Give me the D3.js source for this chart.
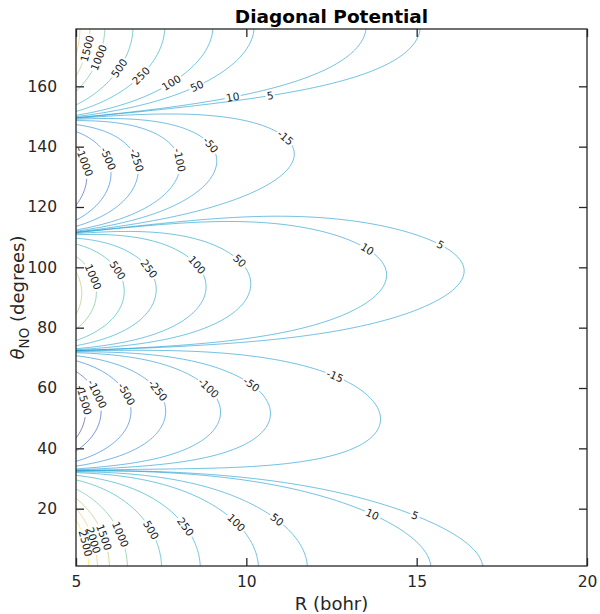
<!DOCTYPE html>
<html>
<head>
<meta charset="utf-8">
<script src="https://cdn.jsdelivr.net/npm/d3@7"></script>
<style>
    body { margin: 0; background: #fff; }
    svg { font-family: "DejaVu Sans", sans-serif; }
</style>
</head>
<body>
<svg id="chart" width="600" height="614"></svg>
<script>
const levels = [-1500, -1000, -500, -250, -100, -50, -15, 5, 10, 50, 100, 250, 500, 1000, 1500, 2000, 2500];
const xTicks = [5, 10, 15, 20];
const yTicks = [20, 40, 60, 80, 100, 120, 140, 160];

// contour readings [level, R (bohr), theta (deg)] taken where the labels sit
const labelsA = [[2500, 5.21, 8.5], [2000, 5.51, 9.6], [1500, 5.83, 10.6], [1000, 6.29, 11.3], [500, 7.17, 12.7],
    [250, 8.20, 13.5], [100, 9.62, 14.3], [50, 10.84, 15.4], [10, 13.68, 17.3], [5, 14.95, 17.7]];
const labelsB = [[-1500, 5.17, 56.0], [-1000, 5.61, 57.7], [-500, 6.49, 58.3], [-250, 7.39, 59.3],
    [-100, 8.84, 59.7], [-50, 10.11, 60.4], [-15, 12.6, 63.3]];
const labelsC = [[1000, 5.47, 96.5], [500, 6.19, 98.5], [250, 7.14, 99.4], [100, 8.57, 101.1],
    [50, 9.82, 102.4], [10, 13.53, 106.0], [5, 15.71, 107.2]];
const labelsD = [[-1000, 5.15, 134.6], [-500, 5.88, 135.9], [-250, 6.79, 135.6], [-100, 8.08, 135.6],
    [-50, 8.96, 140.9], [-15, 11.08, 142.6]];
const labelsE = [[1500, 5.32, 172.7], [1000, 5.62, 169.7], [500, 6.29, 166.1], [250, 6.94, 163.1],
    [100, 7.79, 161.1], [50, 8.55, 160.4], [10, 9.58, 156.5], [5, 10.70, 156.8]];

// other contour readings [level, R, theta]
const edgeBottom = [[2500, 5.39, 1], [2000, 5.65, 1], [1500, 6.02, 1], [1000, 6.55, 1], [500, 7.55, 1],
    [250, 8.69, 1], [100, 10.37, 1], [50, 11.77, 1], [10, 15.37, 1], [5, 16.97, 1]];
const edgeTop = [[2000, 5.06, 179], [1500, 5.38, 179], [1000, 5.87, 179], [500, 6.71, 179], [250, 7.63, 179],
    [100, 8.99, 179], [50, 10.13, 179], [10, 13.45, 179], [5, 15.13, 179]];
const tipsB = [[-1000, 5.85, 50.5], [-500, 6.61, 50.5], [-250, 7.66, 50.5], [-100, 9.28, 50.5],
    [-50, 10.75, 50], [-15, 13.9, 48.5]];
const tipsC = [[1500, 5.12, 93], [1000, 5.56, 93], [500, 6.39, 93], [250, 7.37, 93.6], [100, 8.84, 94],
    [50, 10.19, 94.2], [10, 14.17, 96.9], [5, 16.34, 97.7]];
const tipsD = [[-1000, 5.26, 135], [-500, 6.05, 135], [-250, 6.88, 135], [-100, 8.03, 135],
    [-50, 9.18, 135.5], [-15, 11.36, 136.7]];
const flanks = [[5, 12.4, 26.2], [10, 12.4, 24.5], [-15, 12.4, 34.5], [-15, 9.52, 71.5], [-15, 13.53, 56],
    [10, 9.52, 75.6], [10, 12.46, 82.5], [5, 13.44, 81.4], [5, 15.39, 86.4], [5, 8.64, 115.7],
    [10, 8.64, 115.1], [5, 11.58, 116.8], [10, 11.58, 113.5], [-15, 8.64, 119], [-15, 8.64, 150.8],
    [-15, 11.19, 143.3], [10, 8.64, 154.4], [10, 12.46, 165.4], [5, 12.46, 161], [10, 11.58, 162.1],
    [5, 11.58, 158.8]];
const nodes = [[0, 5, 33.5], [0, 5, 73.8], [0, 5, 112.4], [0, 5, 149.8]];

const parula = ['#352a87', '#0f5cdd', '#1481d6', '#06a4ca', '#2eb7a4', '#87bf77', '#d1bb59', '#fec832', '#f9fb0e'];

const width = 600, height = 614;
const plot = { left: 76, right: 587, top: 29, bottom: 566 };
const x = d3.scaleLinear().domain([5, 20]).range([plot.left, plot.right]);
const y = d3.scaleLinear().domain([1, 179]).range([plot.bottom, plot.top]);
const color = d3.scaleSequential(d3.interpolateRgbBasis(parula)).domain([-1300, 2700]).clamp(true);

// smooth field V(R, theta) = (5/R)^5 * sum_l P_l(cos theta) (a_l + b_l s + c_l s^2), fitted to the readings
const L = 7, K = 3;
const legendre = c => {
    const p = [1, c];
    for (let l = 2; l <= L; l++) p.push(((2 * l - 1) * c * p[l - 1] - (l - 1) * p[l - 2]) / l);
    return p;
};
const basis = (R, t) => {
    const p = legendre(Math.cos(t * Math.PI / 180));
    const s = (R - 5) / 10;
    const out = [];
    for (let k = 0; k < K; k++) for (let l = 0; l <= L; l++) out.push(p[l] * s ** k);
    return out;
};

const fit = rows => {
    const n = (L + 1) * K;
    const M = Array.from({ length: n }, () => new Float64Array(n + 1));
    rows.forEach(([level, R, t]) => {
        const b = basis(R, t);
        const target = level * (R / 5) ** 5;
        const w = level === 0 ? 0.02 : 6.8 * R / Math.abs(target);
        for (let i = 0; i < n; i++) {
            for (let j = 0; j < n; j++) M[i][j] += w * w * b[i] * b[j];
            M[i][n] += w * w * b[i] * target;
        }
    });
    for (let i = 0; i < n; i++) M[i][i] += 1e-6;
    for (let i = 0; i < n; i++) {
        let piv = i;
        for (let r = i + 1; r < n; r++) if (Math.abs(M[r][i]) > Math.abs(M[piv][i])) piv = r;
        [M[i], M[piv]] = [M[piv], M[i]];
        for (let r = 0; r < n; r++) {
            if (r === i) continue;
            const f = M[r][i] / M[i][i];
            for (let c = i; c <= n; c++) M[r][c] -= f * M[i][c];
        }
    }
    return M.map((row, i) => row[n] / row[i]);
};

const labelRows = [...labelsA, ...labelsB, ...labelsC, ...labelsD, ...labelsE];
const coef = fit([...labelRows, ...edgeBottom, ...edgeTop, ...tipsB, ...tipsC, ...tipsD, ...flanks, ...nodes]);
const potential = (R, t) => d3.sum(basis(R, t), (b, i) => b * coef[i]) * (5 / R) ** 5;

// grid, padded two cells past the axes so the grid border falls outside the clip
const nx = 305, ny = 361, dR = 15 / 300, dT = 178 / 356;
const values = new Float64Array(nx * ny);
for (let j = 0; j < ny; j++) {
    const t = 1 + (j - 2) * dT;
    for (let i = 0; i < nx; i++) values[j * nx + i] = potential(5 + (i - 2) * dR, t);
}
const toPx = ([cx, cy]) => [x(5 + (cx - 2.5) * dR), y(1 + (cy - 2.5) * dT)];

const contours = d3.contours().size([nx, ny]).thresholds(levels)(values);
const rings = contours.map(c => c.coordinates.flatMap(poly => poly.map(ring => ring.map(toPx))));

const svg = d3.select('#chart');
const defs = svg.append('defs');
defs.append('clipPath').attr('id', 'clip')
    .append('rect')
    .attr('x', plot.left).attr('y', plot.top)
    .attr('width', plot.right - plot.left).attr('height', plot.bottom - plot.top);

const masks = levels.map((v, i) => {
    const m = defs.append('mask').attr('id', `m${i}`)
        .attr('maskUnits', 'userSpaceOnUse')
        .attr('x', 0).attr('y', 0).attr('width', width).attr('height', height);
    m.append('rect').attr('width', width).attr('height', height).attr('fill', '#fff');
    return m;
});

const line = d3.line();
const lines = svg.append('g').attr('clip-path', 'url(#clip)');
contours.forEach((c, i) => {
    lines.append('g')
        .attr('mask', `url(#m${i})`)
        .selectAll('path')
        .data(rings[i])
        .join('path')
        .attr('d', r => line(r) + 'Z')
        .attr('fill', 'none')
        .attr('stroke', color(c.value))
        .attr('stroke-width', 0.6);
});

// inline labels: snap each reading onto its contour and turn it along the line
const labels = svg.append('g')
    .attr('font-size', 10.5)
    .attr('fill', '#1a1a1a');
labelRows.forEach(([level, R, t]) => {
    const i = levels.indexOf(level);
    const px = x(R), py = y(t);
    let best = null, bestD = Infinity;
    rings[i].forEach(ring => ring.forEach((p, k) => {
        const d = (p[0] - px) ** 2 + (p[1] - py) ** 2;
        if (d < bestD && p[0] > plot.left && p[1] > plot.top && p[1] < plot.bottom) { bestD = d; best = [ring, k]; }
    }));
    if (!best) return;
    const [ring, k] = best;
    const n = ring.length;
    const a = ring[(k - 3 + n) % n], b = ring[(k + 3) % n], p = ring[k];
    let ang = Math.atan2(b[1] - a[1], b[0] - a[0]) * 180 / Math.PI;
    if (ang > 90) ang -= 180;
    if (ang < -90) ang += 180;
    const text = labels.append('text')
        .attr('transform', `translate(${p[0]},${p[1]}) rotate(${ang})`)
        .attr('text-anchor', 'middle')
        .attr('dy', '0.35em')
        .text(level);
    const w = text.node().getComputedTextLength() + 3;
    masks[i].append('rect')
        .attr('x', -w / 2).attr('y', -5)
        .attr('width', w).attr('height', 10)
        .attr('transform', `translate(${p[0]},${p[1]}) rotate(${ang})`)
        .attr('fill', '#000');
});

// axes with inward ticks on every side
const ink = '#262626';
const tick = 8;
const bottomAxis = svg.append('g')
    .attr('transform', `translate(0,${plot.bottom})`)
    .call(d3.axisBottom(x).tickValues(xTicks).tickSize(-tick).tickPadding(10).tickFormat(d3.format('d')));
const topAxis = svg.append('g')
    .attr('transform', `translate(0,${plot.top})`)
    .call(d3.axisTop(x).tickValues(xTicks).tickSize(-tick).tickFormat(''));
const leftAxis = svg.append('g')
    .attr('transform', `translate(${plot.left},0)`)
    .call(d3.axisLeft(y).tickValues(yTicks).tickSize(-tick).tickPadding(19).tickFormat(d3.format('d')));
const rightAxis = svg.append('g')
    .attr('transform', `translate(${plot.right},0)`)
    .call(d3.axisRight(y).tickValues(yTicks).tickSize(-tick).tickFormat(''));
[bottomAxis, topAxis, leftAxis, rightAxis].forEach(g => {
    g.select('.domain').remove();
    g.selectAll('line').attr('stroke', ink).attr('stroke-width', 1.3);
    g.selectAll('text').attr('fill', ink).attr('font-size', 15.5).attr('font-family', '"DejaVu Sans", sans-serif');
});

svg.append('rect')
    .attr('x', plot.left).attr('y', plot.top)
    .attr('width', plot.right - plot.left).attr('height', plot.bottom - plot.top)
    .attr('fill', 'none')
    .attr('stroke', ink)
    .attr('stroke-width', 1.3);

svg.append('text')
    .attr('x', (plot.left + plot.right) / 2).attr('y', 23)
    .attr('text-anchor', 'middle')
    .attr('font-size', 18.5)
    .attr('font-weight', 'bold')
    .attr('fill', '#000')
    .text('Diagonal Potential');

svg.append('text')
    .attr('x', (plot.left + plot.right) / 2).attr('y', 610)
    .attr('text-anchor', 'middle')
    .attr('font-size', 18)
    .attr('fill', ink)
    .text('R (bohr)');

const yLabel = svg.append('text')
    .attr('transform', `translate(24,${(plot.top + plot.bottom) / 2}) rotate(-90)`)
    .attr('text-anchor', 'middle')
    .attr('font-size', 18)
    .attr('fill', ink);
yLabel.append('tspan').attr('font-style', 'italic').text('θ');
yLabel.append('tspan').attr('font-size', 13.5).attr('dy', 5).text('NO');
yLabel.append('tspan').attr('dy', -5).text(' (degrees)');
</script>
</body>
</html>
